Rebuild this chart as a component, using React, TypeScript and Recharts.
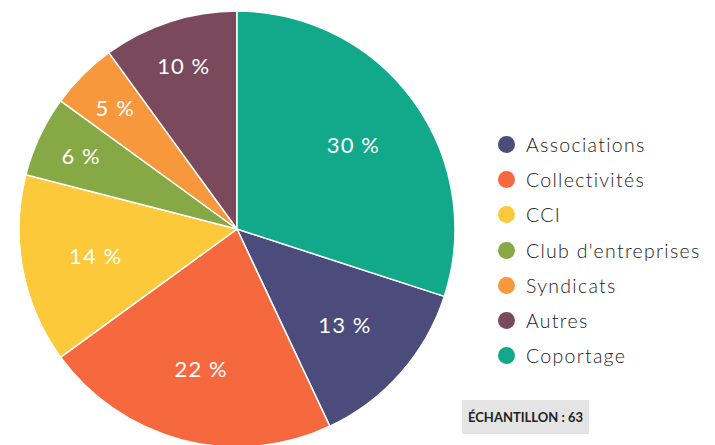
import { PieChart, Pie, Cell, Legend } from 'recharts';

// categories in clockwise order, starting just below 3 o'clock
const categories = [
  'Associations',
  'Collectivités',
  'CCI',
  "Club d'entreprises",
  'Syndicats',
  'Autres',
  'Coportage',
];
const shares = [13, 22, 14, 6, 5, 10, 30];
const colors = ['#4b4b7c', '#f6693f', '#fbc93a', '#86a946', '#f6983b', '#7a4a5c', '#12a98a'];
const sampleSize = 63;

const chartData = categories.map((name, i) => ({ name, value: shares[i] }));

const RADIAN = Math.PI / 180;

const renderLabel = (props: any) => {
  const { cx, cy, midAngle, outerRadius, percent } = props;
  // small slices get their label pushed further out
  const r = outerRadius * (percent < 0.12 ? 0.79 : 0.66);
  const x = cx + r * Math.cos(-midAngle * RADIAN);
  const y = cy + r * Math.sin(-midAngle * RADIAN);
  return (
    <text
      x={x}
      y={y}
      fill='#ffffff'
      textAnchor='middle'
      dominantBaseline='central'
      fontSize={22}
      letterSpacing={1.1}
      fontFamily='Lato, sans-serif'
    >
      {`${Math.round(percent * 100)} %`}
    </text>
  );
};

// legend keeps the category order, not the alphabetical one
const renderLegend = () => (
  <div style={{ fontFamily: 'Lato, sans-serif' }}>
    {categories.map((name, i) => (
      <div
        key={name}
        style={{ display: 'flex', alignItems: 'center', height: 35.2, color: '#222' }}
      >
        <span
          style={{
            display: 'inline-block',
            width: 17,
            height: 17,
            borderRadius: '50%',
            background: colors[i],
            marginRight: 11,
          }}
        />
        <span style={{ fontSize: 19.5, letterSpacing: 1.3, fontWeight: 300 }}>{name}</span>
      </div>
    ))}
  </div>
);

export default function App() {
  return (
    <div style={{ position: 'absolute', left: 0, top: 0, width: 715, height: 445, background: '#fff' }}>
      <PieChart width={715} height={445} margin={{ top: 0, right: 0, bottom: 0, left: 0 }}>
        <Pie
          data={chartData}
          dataKey='value'
          nameKey='name'
          cx={237}
          cy={229}
          outerRadius={218}
          startAngle={-18}
          endAngle={-378}
          stroke='#ffffff'
          strokeWidth={1.5}
          label={renderLabel}
          labelLine={false}
          isAnimationActive={false}
        >
          {chartData.map((d, i) => (
            <Cell key={d.name} fill={colors[i]} />
          ))}
        </Pie>
        <Legend
          layout='vertical'
          verticalAlign='top'
          align='right'
          content={renderLegend}
          wrapperStyle={{ left: 498, top: 127, width: 230 }}
        />
      </PieChart>
      <div
        style={{
          position: 'absolute',
          left: 462,
          top: 400,
          height: 34,
          padding: '0 6px',
          background: '#e4e4e4',
          display: 'flex',
          alignItems: 'center',
          fontFamily: 'Lato, sans-serif',
          fontWeight: 700,
          fontSize: 13,
          color: '#222',
        }}
      >
        ÉCHANTILLON : {sampleSize}
      </div>
    </div>
  );
}
